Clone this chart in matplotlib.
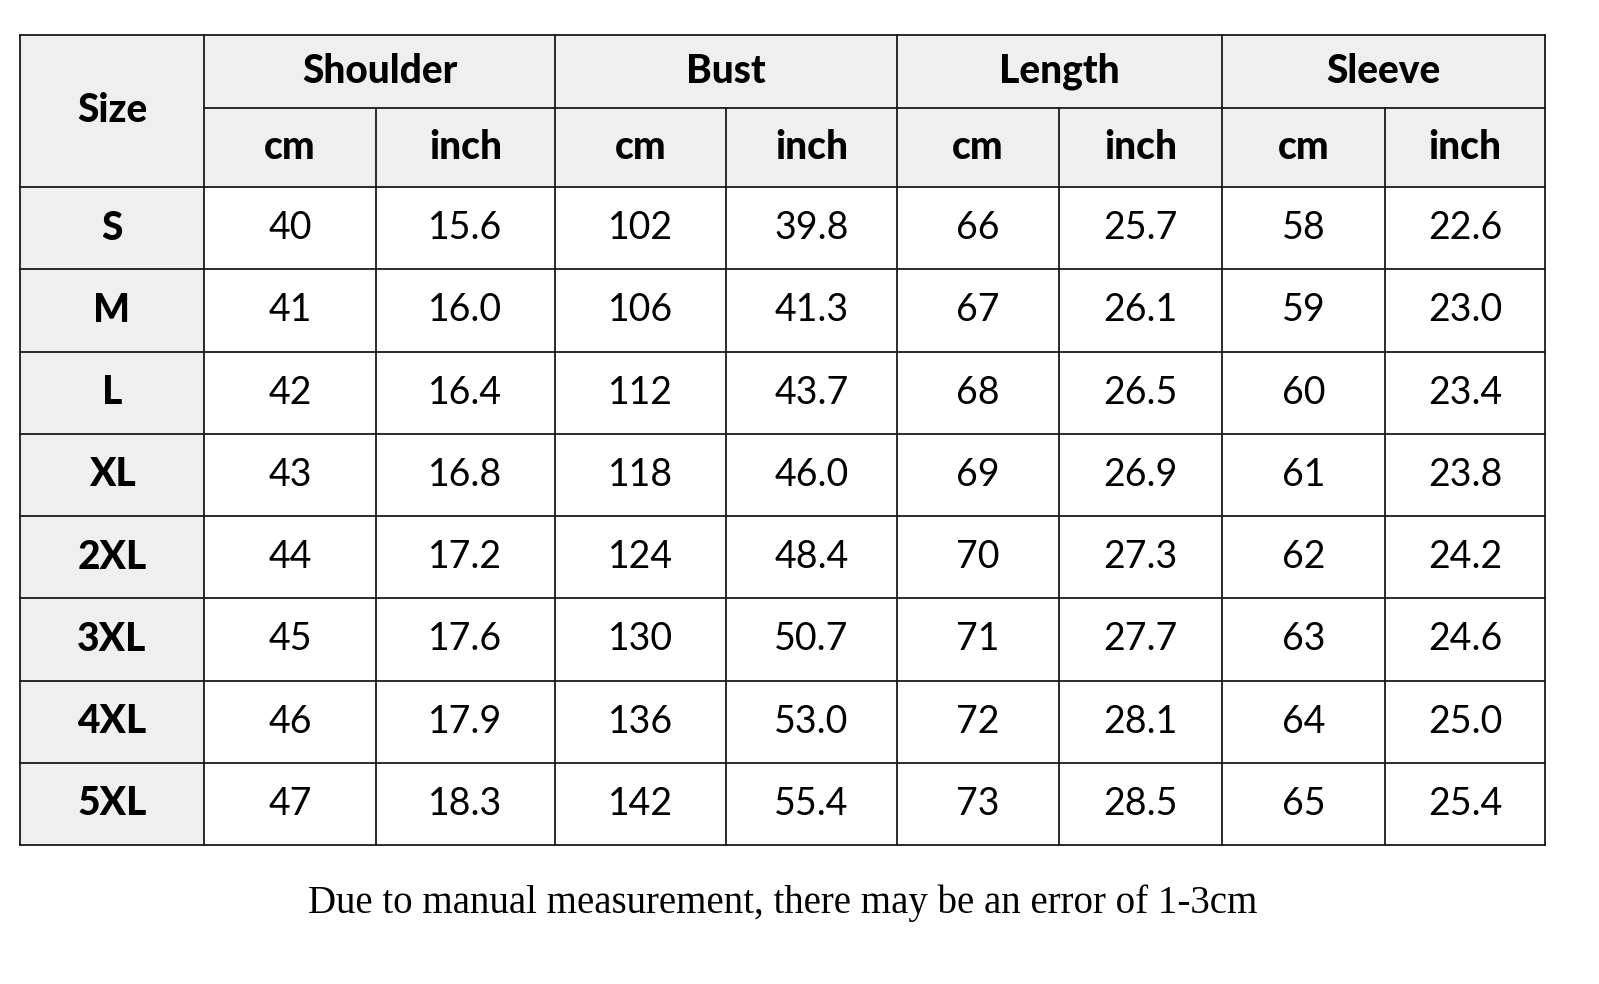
"""
Size chart table (Shoulder / Bust / Length / Sleeve in cm and inch), saved as out.png.
"""
import matplotlib

matplotlib.use("Agg")

import matplotlib.pyplot as plt
from matplotlib.patches import Rectangle

SIZES = ["S", "M", "L", "XL", "2XL", "3XL", "4XL", "5XL"]
GROUPS = ["Shoulder", "Bust", "Length", "Sleeve"]
UNITS = ["cm", "inch"]

SHOULDER_CM = ["40", "41", "42", "43", "44", "45", "46", "47"]
SHOULDER_IN = ["15.6", "16.0", "16.4", "16.8", "17.2", "17.6", "17.9", "18.3"]
BUST_CM = ["102", "106", "112", "118", "124", "130", "136", "142"]
BUST_IN = ["39.8", "41.3", "43.7", "46.0", "48.4", "50.7", "53.0", "55.4"]
LENGTH_CM = ["66", "67", "68", "69", "70", "71", "72", "73"]
LENGTH_IN = ["25.7", "26.1", "26.5", "26.9", "27.3", "27.7", "28.1", "28.5"]
SLEEVE_CM = ["58", "59", "60", "61", "62", "63", "64", "65"]
SLEEVE_IN = ["22.6", "23.0", "23.4", "23.8", "24.2", "24.6", "25.0", "25.4"]

NOTE = "Due to manual measurement, there may be an error of 1-3cm"

# layout in pixels
COL_EDGES = [20, 204, 376, 555, 726, 897, 1059, 1222, 1385, 1545]
HEADER_TOP, HEADER_MID, HEADER_BOTTOM = 35, 108, 187
ROW_H = (845 - HEADER_BOTTOM) / len(SIZES)
GRAY = "#efefef"
LINE = "#1a1a1a"
LW = 1.3
TABLE_FONT = ["Lato", "DejaVu Sans"]
HEAD_SIZE = 28
BODY_SIZE = 27


def main() -> None:
    columns = [SHOULDER_CM, SHOULDER_IN, BUST_CM, BUST_IN,
               LENGTH_CM, LENGTH_IN, SLEEVE_CM, SLEEVE_IN]

    fig = plt.figure(figsize=(15.99, 9.84), dpi=100)
    ax = fig.add_axes([0, 0, 1, 1])
    ax.set_xlim(0, 1599)
    ax.set_ylim(984, 0)
    ax.axis("off")

    bottom = HEADER_BOTTOM + ROW_H * len(SIZES)
    left, right = COL_EDGES[0], COL_EDGES[-1]

    # gray backgrounds: header band and size column
    ax.add_patch(Rectangle((left, HEADER_TOP), right - left, HEADER_BOTTOM - HEADER_TOP,
                           facecolor=GRAY, edgecolor="none"))
    ax.add_patch(Rectangle((left, HEADER_TOP), COL_EDGES[1] - left, bottom - HEADER_TOP,
                           facecolor=GRAY, edgecolor="none"))

    # grid lines
    ax.plot([left, right], [HEADER_TOP, HEADER_TOP], color=LINE, lw=LW)
    ax.plot([COL_EDGES[1], right], [HEADER_MID, HEADER_MID], color=LINE, lw=LW)
    for i in range(len(SIZES) + 1):
        y = HEADER_BOTTOM + ROW_H * i
        ax.plot([left, right], [y, y], color=LINE, lw=LW)
    for j, x in enumerate(COL_EDGES):
        top = HEADER_MID if (j >= 2 and j % 2 == 0 and j < len(COL_EDGES) - 1) else HEADER_TOP
        ax.plot([x, x], [top, bottom], color=LINE, lw=LW)

    # header text
    ax.text((COL_EDGES[0] + COL_EDGES[1]) / 2, (HEADER_TOP + HEADER_BOTTOM) / 2, "Size",
            ha="center", va="center", fontsize=HEAD_SIZE, fontweight="black",
            family=TABLE_FONT)
    for g, name in enumerate(GROUPS):
        x0, x1 = COL_EDGES[1 + 2 * g], COL_EDGES[3 + 2 * g]
        ax.text((x0 + x1) / 2, (HEADER_TOP + HEADER_MID) / 2, name,
                ha="center", va="center", fontsize=HEAD_SIZE, fontweight="black",
                family=TABLE_FONT)
        for u, unit in enumerate(UNITS):
            c0, c1 = COL_EDGES[1 + 2 * g + u], COL_EDGES[2 + 2 * g + u]
            ax.text((c0 + c1) / 2, (HEADER_MID + HEADER_BOTTOM) / 2, unit,
                    ha="center", va="center", fontsize=HEAD_SIZE, fontweight="black",
                    family=TABLE_FONT)

    # body
    for i, size in enumerate(SIZES):
        yc = HEADER_BOTTOM + ROW_H * (i + 0.5)
        ax.text((COL_EDGES[0] + COL_EDGES[1]) / 2, yc, size, ha="center", va="center",
                fontsize=HEAD_SIZE, fontweight="black", family=TABLE_FONT)
        for j, col in enumerate(columns):
            ax.text((COL_EDGES[j + 1] + COL_EDGES[j + 2]) / 2, yc, col[i],
                    ha="center", va="center", fontsize=BODY_SIZE, family=TABLE_FONT)

    ax.text((left + right) / 2, 903, NOTE, ha="center", va="center", fontsize=28,
            family=["Liberation Serif", "DejaVu Serif"])

    fig.savefig("out.png", dpi=100, facecolor="white")
    plt.close(fig)


if __name__ == "__main__":
    main()
